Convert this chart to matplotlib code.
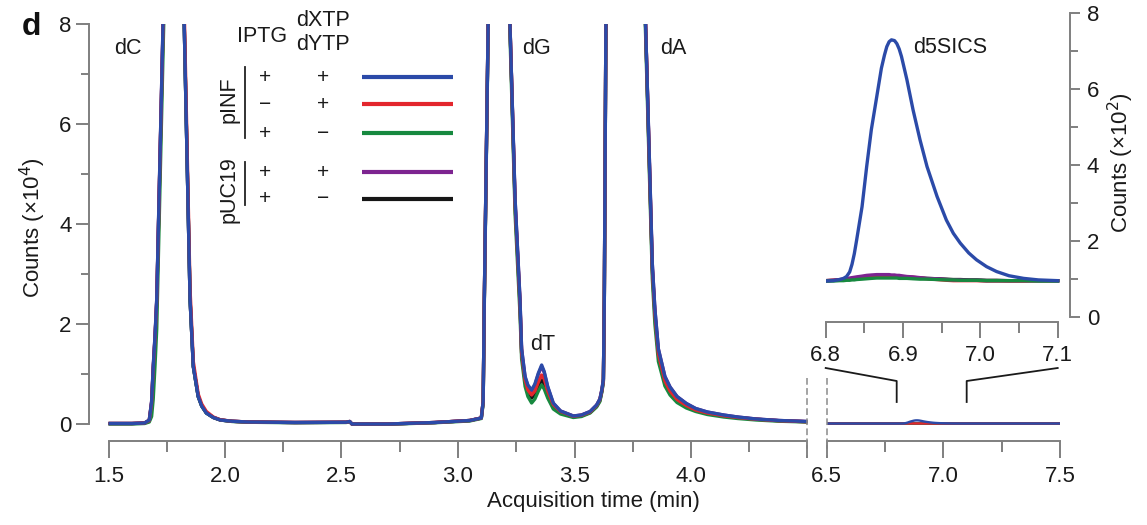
import matplotlib
matplotlib.use("Agg")
import matplotlib.pyplot as plt
from matplotlib.lines import Line2D
from matplotlib.ticker import FixedLocator, FixedFormatter

plt.rcParams['font.family'] = ['Liberation Sans', 'DejaVu Sans']

# ---------------- data (counts x10^4, time in min) ----------------
t_main = [1.50, 1.60, 1.655, 1.675, 1.685, 1.692, 1.700, 1.707, 1.735, 1.75,
          1.78, 1.81, 1.825, 1.85, 1.864, 1.885, 1.90, 1.92, 1.95, 1.98,
          2.03, 2.10, 2.30, 2.52, 2.535, 2.545, 2.70, 2.90, 3.05, 3.10,
          3.108, 3.113, 3.13, 3.15, 3.18, 3.21, 3.223, 3.245, 3.266, 3.273,
          3.288, 3.30, 3.316, 3.33, 3.345, 3.359, 3.37, 3.385, 3.409, 3.44,
          3.495, 3.53, 3.567, 3.595, 3.609, 3.618, 3.624, 3.628, 3.635, 3.68,
          3.72, 3.77, 3.805, 3.822, 3.834, 3.845, 3.86, 3.888, 3.91, 3.94,
          3.98, 4.02, 4.07, 4.14, 4.20, 4.28, 4.38, 4.50]

blue_main = [0.01, 0.01, 0.02, 0.08, 0.45, 1.15, 1.80, 2.50, 8.2, 11.0,
             13.0, 11.0, 8.0, 2.5, 1.15, 0.55, 0.36, 0.22, 0.13, 0.08,
             0.055, 0.04, 0.03, 0.035, 0.05, 0.0, 0.0, 0.03, 0.07, 0.12,
             0.45, 2.5, 8.2, 11.0, 12.0, 10.0, 8.0, 4.5, 2.5, 1.5,
             0.95, 0.78, 0.68, 0.8, 1.02, 1.18, 1.05, 0.75, 0.42, 0.26,
             0.16, 0.18, 0.25, 0.38, 0.5, 0.7, 0.9, 2.5, 8.2, 13.0,
             15.0, 13.0, 8.0, 5.2, 3.2, 2.3, 1.5, 0.95, 0.74, 0.55,
             0.41, 0.31, 0.24, 0.18, 0.14, 0.10, 0.07, 0.05]

red_main = [0.01, 0.01, 0.02, 0.07, 0.42, 1.1, 1.75, 2.45, 8.1, 11.0,
            13.0, 11.2, 8.3, 2.7, 1.25, 0.6, 0.4, 0.25, 0.14, 0.085,
            0.055, 0.04, 0.03, 0.035, 0.05, 0.0, 0.0, 0.03, 0.07, 0.12,
            0.45, 2.5, 8.2, 11.0, 12.0, 10.0, 8.0, 4.4, 2.4, 1.42,
            0.88, 0.68, 0.58, 0.66, 0.84, 0.98, 0.9, 0.66, 0.39, 0.25,
            0.155, 0.175, 0.24, 0.37, 0.49, 0.68, 0.88, 2.5, 8.2, 13.0,
            15.0, 13.0, 8.0, 5.1, 3.1, 2.2, 1.4, 0.86, 0.66, 0.49,
            0.37, 0.28, 0.22, 0.165, 0.13, 0.095, 0.065, 0.045]

green_main = [0.0, 0.0, 0.01, 0.04, 0.15, 0.5, 1.2, 1.9, 7.6, 10.5,
              13.0, 11.0, 8.0, 2.5, 1.15, 0.55, 0.36, 0.22, 0.13, 0.08,
              0.05, 0.035, 0.025, 0.03, 0.045, 0.0, -0.005, 0.025, 0.06, 0.11,
              0.4, 2.4, 8.1, 11.0, 12.0, 10.0, 7.8, 4.2, 2.2, 1.3,
              0.75, 0.55, 0.42, 0.5, 0.66, 0.78, 0.7, 0.52, 0.3, 0.2,
              0.13, 0.15, 0.22, 0.34, 0.45, 0.65, 0.85, 2.4, 8.1, 13.0,
              15.0, 13.0, 7.8, 4.9, 2.9, 2.0, 1.25, 0.76, 0.58, 0.43,
              0.32, 0.25, 0.19, 0.14, 0.11, 0.08, 0.055, 0.04]

purple_main = [0.01, 0.01, 0.02, 0.08, 0.45, 1.15, 1.80, 2.50, 8.2, 11.0,
               13.0, 11.0, 8.0, 2.5, 1.15, 0.55, 0.36, 0.22, 0.13, 0.08,
               0.055, 0.04, 0.03, 0.035, 0.05, 0.0, 0.0, 0.03, 0.07, 0.12,
               0.45, 2.5, 8.2, 11.0, 12.0, 10.0, 8.0, 4.5, 2.5, 1.5,
               0.93, 0.76, 0.66, 0.78, 1.0, 1.15, 1.03, 0.74, 0.41, 0.26,
               0.16, 0.18, 0.25, 0.38, 0.5, 0.7, 0.9, 2.5, 8.2, 13.0,
               15.0, 13.0, 8.0, 5.2, 3.2, 2.3, 1.5, 0.95, 0.74, 0.55,
               0.41, 0.31, 0.24, 0.18, 0.14, 0.10, 0.07, 0.05]

black_main = [0.01, 0.01, 0.02, 0.07, 0.42, 1.1, 1.75, 2.45, 8.1, 11.0,
              13.0, 11.0, 8.0, 2.5, 1.15, 0.55, 0.36, 0.22, 0.13, 0.08,
              0.055, 0.04, 0.03, 0.035, 0.05, 0.0, 0.0, 0.03, 0.07, 0.12,
              0.45, 2.5, 8.2, 11.0, 12.0, 10.0, 8.0, 4.4, 2.4, 1.42,
              0.85, 0.65, 0.52, 0.6, 0.76, 0.88, 0.8, 0.6, 0.35, 0.23,
              0.145, 0.165, 0.23, 0.36, 0.47, 0.67, 0.87, 2.5, 8.2, 13.0,
              15.0, 13.0, 8.0, 5.1, 3.1, 2.2, 1.4, 0.86, 0.66, 0.49,
              0.37, 0.28, 0.22, 0.165, 0.13, 0.095, 0.065, 0.045]

# inset (counts x10^2)
t_inset = [6.80, 6.810, 6.818, 6.823, 6.827, 6.831, 6.834, 6.837, 6.840, 6.847,
           6.853, 6.859, 6.866, 6.872, 6.876, 6.879, 6.882, 6.885, 6.889, 6.892,
           6.895, 6.898, 6.905, 6.913, 6.922, 6.931, 6.944, 6.956, 6.965, 6.974,
           6.985, 6.995, 7.008, 7.021, 7.037, 7.056, 7.075, 7.10]
blue_inset = [0.94, 0.95, 0.98, 1.01, 1.06, 1.18, 1.38, 1.66, 2.02, 2.9,
              3.96, 4.93, 5.8, 6.55, 6.9, 7.12, 7.25, 7.3, 7.28, 7.2,
              7.06, 6.86, 6.25, 5.45, 4.66, 3.96, 3.17, 2.55, 2.2, 1.94,
              1.68, 1.5, 1.32, 1.19, 1.08, 1.01, 0.97, 0.95]
red_inset = [0.95, 0.96, 0.97, 0.98, 0.99, 1.0, 1.01, 1.02, 1.03, 1.05,
             1.06, 1.07, 1.08, 1.08, 1.08, 1.08, 1.08, 1.08, 1.07, 1.07,
             1.07, 1.06, 1.05, 1.04, 1.02, 1.0, 0.98, 0.96, 0.95, 0.95,
             0.95, 0.95, 0.94, 0.94, 0.94, 0.94, 0.95, 0.95]
purple_inset = [0.95, 0.96, 0.98, 0.99, 1.0, 1.02, 1.03, 1.04, 1.05, 1.07,
                1.09, 1.1, 1.11, 1.11, 1.11, 1.11, 1.11, 1.1, 1.1, 1.09,
                1.09, 1.08, 1.06, 1.05, 1.03, 1.01, 1.0, 0.98, 0.97, 0.97,
                0.96, 0.96, 0.95, 0.95, 0.95, 0.95, 0.95, 0.95]
black_inset = [0.95, 0.96, 0.97, 0.97, 0.98, 0.99, 1.0, 1.01, 1.02, 1.03,
               1.05, 1.06, 1.06, 1.07, 1.07, 1.07, 1.07, 1.06, 1.06, 1.06,
               1.06, 1.05, 1.04, 1.03, 1.02, 1.01, 1.0, 0.99, 0.98, 0.98,
               0.97, 0.97, 0.96, 0.96, 0.95, 0.95, 0.95, 0.95]
green_inset = [0.94, 0.94, 0.95, 0.95, 0.96, 0.96, 0.97, 0.97, 0.98, 0.99,
               1.0, 1.01, 1.02, 1.02, 1.02, 1.02, 1.02, 1.02, 1.02, 1.02,
               1.01, 1.01, 1.01, 1.0, 0.99, 0.99, 0.98, 0.97, 0.97, 0.96,
               0.96, 0.96, 0.95, 0.95, 0.95, 0.95, 0.94, 0.94]

# right segment of main axis: ends of the baseline (counts x10^2)
t_right_start, t_right_end = 6.5, 7.5
base_right_start, base_right_end = 0.94, 0.95

# legend table
plasmids = ['pINF', 'pUC19']
iptg = ['+', '\u2212', '+', '+', '+']
xtp = ['+', '+', '\u2212', '+', '\u2212']

series_names = ['blue', 'red', 'green', 'purple', 'black']
colors = {'blue': '#2b4aa8', 'red': '#e3262d', 'green': '#17893f',
          'purple': '#7d2490', 'black': '#161616'}
main_data = {'blue': blue_main, 'red': red_main, 'green': green_main,
             'purple': purple_main, 'black': black_main}
inset_data = {'blue': blue_inset, 'red': red_inset, 'green': green_inset,
              'purple': purple_inset, 'black': black_inset}
draw_order_main = ['black', 'purple', 'green', 'red', 'blue']
draw_order_inset = ['black', 'red', 'purple', 'green', 'blue']

main_ticks_x = [1.5, 2.0, 2.5, 3.0, 3.5, 4.0, 4.5]
main_ticklabels_x = ['1.5', '2.0', '2.5', '3.0', '3.5', '4.0', '']
main_minor_x = [1.75, 2.25, 2.75, 3.25, 3.75, 4.25]
right_ticks_x = [6.5, 7.0, 7.5]
right_ticklabels_x = ['6.5', '7.0', '7.5']
right_minor_x = [6.75, 7.25]
inset_ticks_x = [6.8, 6.9, 7.0, 7.1]
inset_ticklabels_x = ['6.8', '6.9', '7.0', '7.1']
inset_minor_x = [6.85, 6.95, 7.05]
y_ticks = [0, 2, 4, 6, 8]
y_minor = [1, 3, 5, 7]

# ---------------- figure ----------------
W, H = 1147, 525
fig = plt.figure(figsize=(W / 100, H / 100), dpi=100)
fig.patch.set_facecolor('white')

def box(l, r, t, b):
    return [l / W, 1 - b / H, (r - l) / W, (b - t) / H]

def px(x, y):
    return (x / W, 1 - y / H)

SPC = '#7f7f7f'
TXT = '#1a1a1a'
LW = 2.4
FS_TICK = 16
FS_LAB = 16
FS_ANN = 15.5

ax1 = fig.add_axes(box(89, 807.5, 24, 441))
ax2 = fig.add_axes(box(826.7, 1060, 24, 441))
ax3 = fig.add_axes(box(825.7, 1070, 13.3, 322))
for a in (ax1, ax2, ax3):
    a.set_facecolor('none')
    for s in a.spines.values():
        s.set_color(SPC)
        s.set_linewidth(1.4)

ax1.set_xlim(1.5 - 19.5 / 233.0, 4.5)
ax1.set_ylim(-17 / 50.0, 8)
ax2.set_xlim(6.5, 7.5)
ax2.set_ylim(-17 / 50.0, 8)
ax3.set_xlim(6.8, 7.1 + 12.3 / 773.3)
ax3.set_ylim(-5.3 / 37.9, 8)

for name in draw_order_main:
    ax1.plot(t_main, main_data[name], color=colors[name], lw=LW,
             solid_joinstyle='round', solid_capstyle='butt')
    xr = [t_right_start] + t_inset + [t_right_end]
    yr = [v / 100.0 for v in [base_right_start] + inset_data[name] + [base_right_end]]
    ax2.plot(xr, yr, color=colors[name], lw=1.7)
for name in draw_order_inset:
    ax3.plot(t_inset, inset_data[name], color=colors[name], lw=LW,
             solid_joinstyle='round')

# ax1 axes styling
ax1.spines['top'].set_visible(False)
ax1.spines['right'].set_visible(False)
ax1.spines['left'].set_bounds(0, 8)
ax1.spines['bottom'].set_bounds(1.5, 4.5)
ax1.xaxis.set_major_locator(FixedLocator(main_ticks_x))
ax1.xaxis.set_major_formatter(FixedFormatter(main_ticklabels_x))
ax1.xaxis.set_minor_locator(FixedLocator(main_minor_x))
ax1.yaxis.set_major_locator(FixedLocator(y_ticks))
ax1.yaxis.set_minor_locator(FixedLocator(y_minor))
ax1.tick_params(axis='x', which='major', length=12.2, width=1.4, color=SPC,
                labelsize=FS_TICK, labelcolor=TXT, pad=5.5)
ax1.tick_params(axis='x', which='minor', length=7.9, width=1.4, color=SPC)
ax1.tick_params(axis='y', which='major', length=9.1, width=1.4, color=SPC,
                labelsize=FS_TICK, labelcolor=TXT, pad=3.5)
ax1.tick_params(axis='y', which='minor', length=5.5, width=1.4, color=SPC)

# ax2
for s in ('top', 'right', 'left'):
    ax2.spines[s].set_visible(False)
ax2.spines['bottom'].set_bounds(6.5, 7.5)
ax2.yaxis.set_visible(False)
ax2.xaxis.set_major_locator(FixedLocator(right_ticks_x))
ax2.xaxis.set_major_formatter(FixedFormatter(right_ticklabels_x))
ax2.xaxis.set_minor_locator(FixedLocator(right_minor_x))
ax2.tick_params(axis='x', which='major', length=12.2, width=1.4, color=SPC,
                labelsize=FS_TICK, labelcolor=TXT, pad=5.5)
ax2.tick_params(axis='x', which='minor', length=7.9, width=1.4, color=SPC)

# ax3 inset
ax3.spines['top'].set_visible(False)
ax3.spines['left'].set_visible(False)
ax3.spines['right'].set_bounds(0, 8)
ax3.spines['bottom'].set_bounds(6.8, 7.1)
ax3.yaxis.tick_right()
ax3.xaxis.set_major_locator(FixedLocator(inset_ticks_x))
ax3.xaxis.set_major_formatter(FixedFormatter(inset_ticklabels_x))
ax3.xaxis.set_minor_locator(FixedLocator(inset_minor_x))
ax3.yaxis.set_major_locator(FixedLocator(y_ticks))
ax3.yaxis.set_minor_locator(FixedLocator(y_minor))
ax3.tick_params(axis='x', which='major', length=11.5, width=1.4, color=SPC,
                labelsize=FS_TICK, labelcolor=TXT, pad=5)
ax3.tick_params(axis='x', which='minor', length=7.9, width=1.4, color=SPC)
ax3.tick_params(axis='y', which='major', length=7.2, width=1.4, color=SPC,
                labelsize=FS_TICK, labelcolor=TXT, pad=5)
ax3.tick_params(axis='y', which='minor', length=5.8, width=1.4, color=SPC)

# axis labels
fig.text(*px(33, 228), 'Counts (\u00d710$^4$)', rotation=90, ha='center', va='center',
         fontsize=FS_LAB, color=TXT)
fig.text(*px(1121, 163), 'Counts (\u00d710$^2$)', rotation=90, ha='center', va='center',
         fontsize=FS_LAB, color=TXT)
fig.text(*px(593, 502), 'Acquisition time (min)', ha='center', va='center',
         fontsize=FS_LAB, color=TXT)
fig.text(*px(31, 27), 'd', ha='center', va='center', fontsize=23,
         fontweight='bold', color='#111111')

# peak labels
ax1.text(1.584, 7.5, 'dC', ha='center', va='center', fontsize=FS_ANN, color=TXT)
ax1.text(3.339, 7.5, 'dG', ha='center', va='center', fontsize=FS_ANN, color=TXT)
ax1.text(3.923, 7.5, 'dA', ha='center', va='center', fontsize=FS_ANN, color=TXT)
ax1.text(3.364, 1.6, 'dT', ha='center', va='center', fontsize=FS_ANN, color=TXT)
ax3.text(6.961, 7.09, 'd5SICS', ha='center', va='center', fontsize=FS_ANN, color=TXT)

# legend table
fig.text(*px(262, 36), 'IPTG', ha='center', va='center', fontsize=FS_ANN, color=TXT)
fig.text(*px(323, 21), 'dXTP', ha='center', va='center', fontsize=FS_ANN, color=TXT)
fig.text(*px(323, 45), 'dYTP', ha='center', va='center', fontsize=FS_ANN, color=TXT)
fig.text(*px(229, 100), plasmids[0], rotation=90, ha='center', va='center',
         fontsize=FS_ANN, color=TXT)
fig.text(*px(229, 190), plasmids[1], rotation=90, ha='center', va='center',
         fontsize=FS_ANN, color=TXT)
for (y0, y1) in [(67, 138), (162, 205)]:
    fig.add_artist(Line2D([245 / W, 245 / W], [1 - y0 / H, 1 - y1 / H],
                          transform=fig.transFigure, color='#222222', lw=1.3))
row_y = [77, 104, 133, 172, 199]
for i, name in enumerate(series_names):
    fig.text(*px(265, row_y[i]), iptg[i], ha='center', va='center', fontsize=15, color=TXT)
    fig.text(*px(323, row_y[i]), xtp[i], ha='center', va='center', fontsize=15, color=TXT)
    fig.add_artist(Line2D([362 / W, 453 / W], [1 - row_y[i] / H] * 2,
                          transform=fig.transFigure, color=colors[name], lw=3.0,
                          solid_capstyle='butt'))

# break markers and connectors (positions derived from axes transforms)
fig.canvas.draw()
x_break1 = ax1.transData.transform((4.5, 0))[0]
x_break2 = ax2.transData.transform((6.5, 0))[0]
for xb in (x_break1, x_break2):
    fig.add_artist(Line2D([xb / W, xb / W], [1 - 378 / H, 1 - 458 / H],
                          transform=fig.transFigure, color='#8a8a8a', lw=1.1,
                          dashes=[4.4, 2.2]))
for xv in (6.8, 7.1):
    xt = ax3.transData.transform((xv, 0))[0]
    xbtm = ax2.transData.transform((xv, 0))[0]
    fig.add_artist(Line2D([xt / W, xbtm / W, xbtm / W],
                          [1 - 368 / H, 1 - 381 / H, 1 - 402 / H],
                          transform=fig.transFigure, color='#1a1a1a', lw=1.3))

fig.savefig('out.png', dpi=100, facecolor='white')
